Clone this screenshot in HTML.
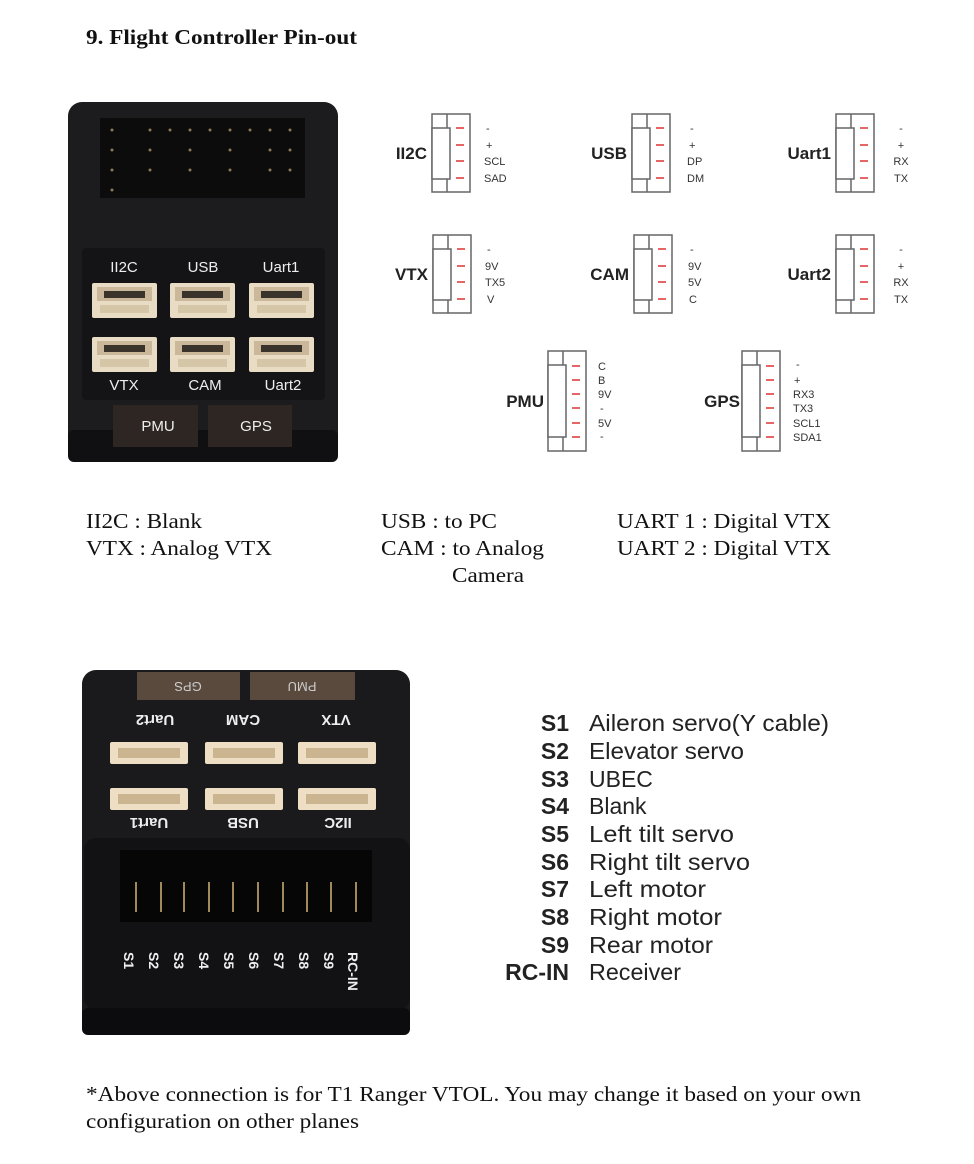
<!DOCTYPE html>
<html><head><meta charset="utf-8"><style>
html,body{margin:0;padding:0;background:#fff;}
svg{display:block;}
.s{font-family:"Liberation Serif",serif;font-size:21px;fill:#111;}
.lab{font-family:"Liberation Sans",sans-serif;font-size:11px;fill:#333;}
.big{font-family:"Liberation Sans",sans-serif;font-size:17px;font-weight:bold;fill:#222;}
.pl{font-family:"Liberation Sans",sans-serif;font-size:15px;fill:#eee;}
.sb{font-family:"Liberation Sans",sans-serif;font-size:23px;font-weight:bold;fill:#222;}
.sd{font-family:"Liberation Sans",sans-serif;font-size:23px;fill:#222;}
</style></head><body>
<svg width="974" height="1164" viewBox="0 0 974 1164" xmlns="http://www.w3.org/2000/svg">
<defs>
<g id="c4" fill="none" stroke="#666" stroke-width="1.5">
<rect x="0" y="0" width="38" height="78"/><line x1="15" y1="0" x2="15" y2="78"/>
<rect x="0" y="14" width="18" height="51" fill="#fff"/>
<path d="M24 14h8M24 31h8M24 47h8M24 64h8" stroke="#d33"/>
</g>
<g id="c6" fill="none" stroke="#666" stroke-width="1.5">
<rect x="0" y="0" width="38" height="100"/><line x1="15" y1="0" x2="15" y2="100"/>
<rect x="0" y="14" width="18" height="72" fill="#fff"/>
<path d="M24 15h8M24 29h8M24 43h8M24 57h8M24 72h8M24 86h8" stroke="#d33"/>
</g>
<g id="jst"><rect width="65" height="35" rx="2" fill="#e9dcc4"/><rect x="5" y="4" width="55" height="14" fill="#cbb89a"/><rect x="12" y="8" width="41" height="7" fill="#3a332b"/><path d="M8 22h49v8H8z" fill="#d6c6a8"/></g>
<g id="jst2"><rect width="78" height="22" rx="2" fill="#eedfc4"/><rect x="8" y="6" width="62" height="10" fill="#cbb590"/></g>
</defs>

<text x="86" y="44" class="s" style="font-weight:bold" textLength="271" lengthAdjust="spacingAndGlyphs">9. Flight Controller Pin-out</text>

<!-- photo 1 -->
<rect x="68" y="102" width="270" height="360" rx="14" fill="#1c1c1e"/>
<rect x="68" y="430" width="270" height="32" rx="6" fill="#101012"/>
<rect x="100" y="118" width="205" height="80" fill="#0c0c0c"/>
<g fill="#8a7a5a">
<circle cx="112" cy="130" r="1.5"/><circle cx="112" cy="150" r="1.5"/><circle cx="112" cy="170" r="1.5"/><circle cx="112" cy="190" r="1.5"/>
<circle cx="150" cy="130" r="1.5"/><circle cx="170" cy="130" r="1.5"/><circle cx="190" cy="130" r="1.5"/><circle cx="210" cy="130" r="1.5"/><circle cx="230" cy="130" r="1.5"/><circle cx="250" cy="130" r="1.5"/><circle cx="270" cy="130" r="1.5"/><circle cx="290" cy="130" r="1.5"/>
<circle cx="150" cy="150" r="1.5"/><circle cx="190" cy="150" r="1.5"/><circle cx="230" cy="150" r="1.5"/><circle cx="270" cy="150" r="1.5"/><circle cx="290" cy="150" r="1.5"/>
<circle cx="150" cy="170" r="1.5"/><circle cx="190" cy="170" r="1.5"/><circle cx="230" cy="170" r="1.5"/><circle cx="270" cy="170" r="1.5"/><circle cx="290" cy="170" r="1.5"/>
</g>
<rect x="82" y="248" width="243" height="152" rx="4" fill="#141416"/>
<text x="124" y="272" class="pl" text-anchor="middle">II2C</text>
<text x="203" y="272" class="pl" text-anchor="middle">USB</text>
<text x="281" y="272" class="pl" text-anchor="middle">Uart1</text>
<use href="#jst" x="92" y="283"/><use href="#jst" x="170" y="283"/><use href="#jst" x="249" y="283"/>
<use href="#jst" x="92" y="337"/><use href="#jst" x="170" y="337"/><use href="#jst" x="249" y="337"/>
<text x="124" y="390" class="pl" text-anchor="middle">VTX</text>
<text x="205" y="390" class="pl" text-anchor="middle">CAM</text>
<text x="283" y="390" class="pl" text-anchor="middle">Uart2</text>
<rect x="113" y="405" width="85" height="42" fill="#2e2622"/><rect x="208" y="405" width="84" height="42" fill="#2e2622"/>
<text x="158" y="431" class="pl" text-anchor="middle">PMU</text>
<text x="256" y="431" class="pl" text-anchor="middle">GPS</text>

<!-- connector diagrams -->
<use href="#c4" x="432" y="114"/><use href="#c4" x="632" y="114"/><use href="#c4" x="836" y="114"/>
<use href="#c4" x="433" y="235"/><use href="#c4" x="634" y="235"/><use href="#c4" x="836" y="235"/>
<use href="#c6" x="548" y="351"/><use href="#c6" x="742" y="351"/>
<text x="427" y="159" class="big" text-anchor="end">II2C</text>
<text x="627" y="159" class="big" text-anchor="end">USB</text>
<text x="831" y="159" class="big" text-anchor="end">Uart1</text>
<text x="428" y="280" class="big" text-anchor="end">VTX</text>
<text x="629" y="280" class="big" text-anchor="end">CAM</text>
<text x="831" y="280" class="big" text-anchor="end">Uart2</text>
<text x="544" y="407" class="big" text-anchor="end">PMU</text>
<text x="740" y="407" class="big" text-anchor="end">GPS</text>
<g class="lab">
<text x="486" y="132">-</text><text x="486" y="149">+</text><text x="484" y="165">SCL</text><text x="484" y="182">SAD</text>
<text x="690" y="132">-</text><text x="689" y="149">+</text><text x="687" y="165">DP</text><text x="687" y="182">DM</text>
<g text-anchor="middle"><text x="901" y="132">-</text><text x="901" y="149">+</text><text x="901" y="165">RX</text><text x="901" y="182">TX</text>
<text x="901" y="253">-</text><text x="901" y="270">+</text><text x="901" y="286">RX</text><text x="901" y="303">TX</text></g>
<text x="487" y="253">-</text><text x="485" y="270">9V</text><text x="485" y="286">TX5</text><text x="487" y="303">V</text>
<text x="690" y="253">-</text><text x="688" y="270">9V</text><text x="688" y="286">5V</text><text x="689" y="303">C</text>
<text x="598" y="370">C</text><text x="598" y="384">B</text><text x="598" y="398">9V</text><text x="600" y="412">-</text><text x="598" y="427">5V</text><text x="600" y="440">-</text>
<text x="796" y="368">-</text><text x="794" y="384">+</text><text x="793" y="398">RX3</text><text x="793" y="412">TX3</text><text x="793" y="427">SCL1</text><text x="793" y="441">SDA1</text>
</g>

<text x="86" y="528" class="s" textLength="116" lengthAdjust="spacingAndGlyphs">II2C : Blank</text>
<text x="86" y="555" class="s" textLength="186" lengthAdjust="spacingAndGlyphs">VTX : Analog VTX</text>
<text x="381" y="528" class="s" textLength="116" lengthAdjust="spacingAndGlyphs">USB : to PC</text>
<text x="381" y="555" class="s" textLength="163" lengthAdjust="spacingAndGlyphs">CAM : to Analog</text>
<text x="452" y="582" class="s" textLength="72" lengthAdjust="spacingAndGlyphs">Camera</text>
<text x="617" y="528" class="s" textLength="214" lengthAdjust="spacingAndGlyphs">UART 1 : Digital VTX</text>
<text x="617" y="555" class="s" textLength="214" lengthAdjust="spacingAndGlyphs">UART 2 : Digital VTX</text>

<!-- photo 2 -->
<rect x="82" y="670" width="328" height="365" rx="14" fill="#1a1a1c"/>
<rect x="137" y="672" width="103" height="28" fill="#5a4a3e"/><rect x="250" y="672" width="105" height="28" fill="#5a4a3e"/>
<text x="188" y="692" class="pl" text-anchor="middle" transform="rotate(180 188 687)" style="fill:#ccc;font-size:13px">GPS</text>
<text x="302" y="692" class="pl" text-anchor="middle" transform="rotate(180 302 687)" style="fill:#ccc;font-size:13px">PMU</text>
<g font-weight="bold">
<text x="155" y="725" class="pl" text-anchor="middle" transform="rotate(180 155 720)">Uart2</text>
<text x="243" y="725" class="pl" text-anchor="middle" transform="rotate(180 243 720)">CAM</text>
<text x="336" y="725" class="pl" text-anchor="middle" transform="rotate(180 336 720)">VTX</text>
<text x="149" y="828" class="pl" text-anchor="middle" transform="rotate(180 149 823)">Uart1</text>
<text x="243" y="828" class="pl" text-anchor="middle" transform="rotate(180 243 823)">USB</text>
<text x="338" y="828" class="pl" text-anchor="middle" transform="rotate(180 338 823)">II2C</text>
</g>
<use href="#jst2" x="110" y="742"/><use href="#jst2" x="205" y="742"/><use href="#jst2" x="298" y="742"/>
<use href="#jst2" x="110" y="788"/><use href="#jst2" x="205" y="788"/><use href="#jst2" x="298" y="788"/>
<rect x="84" y="838" width="326" height="172" rx="12" fill="#121214"/>
<rect x="120" y="850" width="252" height="72" fill="#060606"/>
<g fill="#a08a5a">
<rect x="135" y="882" width="2" height="30"/><rect x="160" y="882" width="2" height="30"/><rect x="183" y="882" width="2" height="30"/><rect x="208" y="882" width="2" height="30"/><rect x="232" y="882" width="2" height="30"/><rect x="257" y="882" width="2" height="30"/><rect x="282" y="882" width="2" height="30"/><rect x="306" y="882" width="2" height="30"/><rect x="330" y="882" width="2" height="30"/><rect x="355" y="882" width="2" height="30"/>
</g>
<g class="pl" style="font-weight:bold;font-size:14px">
<text transform="translate(124,952) rotate(90)">S1</text>
<text transform="translate(149,952) rotate(90)">S2</text>
<text transform="translate(174,952) rotate(90)">S3</text>
<text transform="translate(199,952) rotate(90)">S4</text>
<text transform="translate(224,952) rotate(90)">S5</text>
<text transform="translate(249,952) rotate(90)">S6</text>
<text transform="translate(274,952) rotate(90)">S7</text>
<text transform="translate(299,952) rotate(90)">S8</text>
<text transform="translate(324,952) rotate(90)">S9</text>
<text transform="translate(348,952) rotate(90)">RC-IN</text>
</g>
<rect x="82" y="1008" width="328" height="27" rx="6" fill="#0c0c0e"/>

<!-- S list -->
<g>
<text x="569" y="731" class="sb" text-anchor="end">S1</text><text x="589" y="731" class="sd" textLength="240" lengthAdjust="spacingAndGlyphs">Aileron servo(Y cable)</text>
<text x="569" y="759" class="sb" text-anchor="end">S2</text><text x="589" y="759" class="sd" textLength="155" lengthAdjust="spacingAndGlyphs">Elevator servo</text>
<text x="569" y="787" class="sb" text-anchor="end">S3</text><text x="589" y="787" class="sd">UBEC</text>
<text x="569" y="814" class="sb" text-anchor="end">S4</text><text x="589" y="814" class="sd">Blank</text>
<text x="569" y="842" class="sb" text-anchor="end">S5</text><text x="589" y="842" class="sd" textLength="145" lengthAdjust="spacingAndGlyphs">Left tilt servo</text>
<text x="569" y="870" class="sb" text-anchor="end">S6</text><text x="589" y="870" class="sd" textLength="161" lengthAdjust="spacingAndGlyphs">Right tilt servo</text>
<text x="569" y="897" class="sb" text-anchor="end">S7</text><text x="589" y="897" class="sd" textLength="117" lengthAdjust="spacingAndGlyphs">Left motor</text>
<text x="569" y="925" class="sb" text-anchor="end">S8</text><text x="589" y="925" class="sd" textLength="133" lengthAdjust="spacingAndGlyphs">Right motor</text>
<text x="569" y="953" class="sb" text-anchor="end">S9</text><text x="589" y="953" class="sd" textLength="124" lengthAdjust="spacingAndGlyphs">Rear motor</text>
<text x="569" y="980" class="sb" text-anchor="end">RC-IN</text><text x="589" y="980" class="sd" textLength="92" lengthAdjust="spacingAndGlyphs">Receiver</text>
</g>

<text x="86" y="1101" class="s" textLength="775" lengthAdjust="spacingAndGlyphs">*Above connection is for T1 Ranger VTOL. You may change it based on your own</text>
<text x="86" y="1128" class="s" textLength="273" lengthAdjust="spacingAndGlyphs">configuration on other planes</text>
</svg>
</body></html>
